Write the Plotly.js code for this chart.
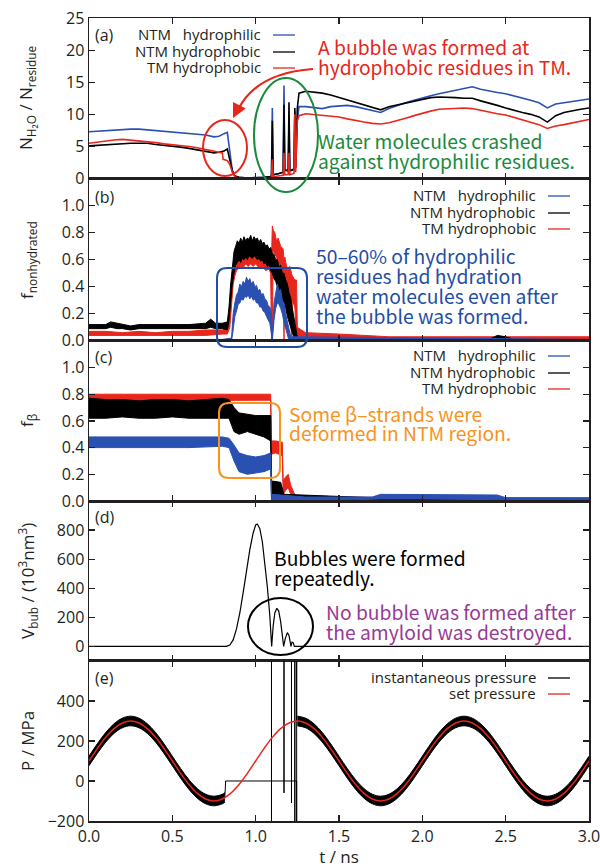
<!DOCTYPE html>
<html><head><meta charset="utf-8">
<script src="https://cdn.plot.ly/plotly-3.0.1.min.js"></script>
<style>html,body{margin:0;padding:0;background:#fff}#chart{width:600px;height:868px}</style>
</head><body><div id="chart"></div>
<script>
// ---------------- DATA ----------------
const xTickVals = [0, 0.5, 1.0, 1.5, 2.0, 2.5, 3.0];
const xTickText = ["0.0", "0.5", "1.0", "1.5", "2.0", "2.5", "3.0"];
const seriesNames = ["NTM\u00a0\u00a0 hydrophilic", "NTM hydrophobic", "TM hydrophobic"];
const pressureNames = ["instantaneous pressure", "set pressure"];

// (a) N_H2O / N_residue  [t, value]
const aPhilicNTM = [[0,7.3],[0.05,7.4],[0.1,7.4],[0.15,7.6],[0.2,7.6],[0.25,7.7],[0.3,7.7],[0.35,7.6],[0.4,7.5],[0.45,7.4],[0.5,7.2],[0.55,7.1],[0.6,7.0],[0.65,6.9],[0.7,6.8],[0.75,6.5],[0.78,6.6],[0.81,7.0],[0.83,7.2],[0.845,4.2],[0.86,1.2],[0.875,0.4],[0.9,0.2],[0.95,0.1],[1.0,0.1],[1.05,0.2],[1.09,0.3],[1.095,0.5],[1.1,11.0],[1.105,0.6],[1.14,0.8],[1.165,1.0],[1.17,14.5],[1.175,1.5],[1.195,1.2],[1.2,9.0],[1.205,1.3],[1.23,1.5],[1.235,10.5],[1.24,1.8],[1.25,9.0],[1.26,11.2],[1.3,11.2],[1.35,11.0],[1.4,10.9],[1.45,11.2],[1.5,11.3],[1.55,11.4],[1.6,11.2],[1.65,10.9],[1.7,10.6],[1.75,10.3],[1.8,10.9],[1.85,11.4],[1.9,11.8],[1.95,12.2],[2.0,12.6],[2.05,12.9],[2.1,13.2],[2.15,13.5],[2.2,13.8],[2.25,14.0],[2.3,14.3],[2.35,13.9],[2.4,13.6],[2.45,13.4],[2.5,13.2],[2.55,12.9],[2.6,12.6],[2.65,12.2],[2.7,11.8],[2.75,11.0],[2.8,11.6],[2.85,11.8],[2.9,12.0],[2.95,12.2],[3.0,12.4]];
const aPhobicNTM = [[0,5.1],[0.05,5.2],[0.1,5.3],[0.15,5.4],[0.2,5.5],[0.25,5.5],[0.3,5.5],[0.35,5.5],[0.4,5.3],[0.45,5.2],[0.5,5.0],[0.55,4.9],[0.6,4.7],[0.65,4.5],[0.7,4.3],[0.75,4.0],[0.78,4.1],[0.81,4.3],[0.83,4.6],[0.845,3.0],[0.86,1.2],[0.875,0.4],[0.9,0.2],[0.95,0.1],[1.0,0.1],[1.05,0.2],[1.09,0.3],[1.095,0.5],[1.1,9.0],[1.105,0.6],[1.14,0.8],[1.165,1.0],[1.17,11.5],[1.175,1.3],[1.195,1.2],[1.2,11.9],[1.205,1.2],[1.23,1.4],[1.235,11.0],[1.24,1.6],[1.25,11.0],[1.26,13.3],[1.3,13.6],[1.35,13.5],[1.4,13.3],[1.45,13.0],[1.5,12.6],[1.55,12.2],[1.6,11.8],[1.65,11.4],[1.7,11.0],[1.75,10.7],[1.8,11.2],[1.85,11.5],[1.9,11.8],[1.95,12.1],[2.0,12.4],[2.05,12.6],[2.1,12.7],[2.15,12.7],[2.2,12.6],[2.25,12.5],[2.3,12.5],[2.35,12.1],[2.4,11.8],[2.45,11.4],[2.5,11.0],[2.55,10.6],[2.6,10.3],[2.65,10.0],[2.7,9.6],[2.75,8.8],[2.8,9.8],[2.85,10.3],[2.9,10.6],[2.95,10.8],[3.0,11.0]];
const aPhobicTM = [[0,5.5],[0.05,5.7],[0.1,5.9],[0.15,6.0],[0.2,6.1],[0.25,6.0],[0.3,5.9],[0.35,5.8],[0.4,5.6],[0.45,5.4],[0.5,5.3],[0.55,5.1],[0.6,5.0],[0.65,4.8],[0.7,4.5],[0.75,4.2],[0.8,4.0],[0.805,3.0],[0.83,2.8],[0.845,2.2],[0.86,1.0],[0.875,0.3],[0.9,0.1],[0.95,0.05],[1.0,0.05],[1.05,0.1],[1.09,0.15],[1.095,0.3],[1.1,3.0],[1.105,0.3],[1.14,0.4],[1.165,0.5],[1.17,4.0],[1.175,0.6],[1.195,0.6],[1.2,4.0],[1.205,0.6],[1.23,0.8],[1.235,10.0],[1.24,1.0],[1.25,9.0],[1.26,9.8],[1.3,10.1],[1.35,10.0],[1.4,9.9],[1.45,9.8],[1.5,9.6],[1.55,9.3],[1.6,9.0],[1.65,8.8],[1.7,8.6],[1.75,8.5],[1.8,8.7],[1.85,9.0],[1.9,9.4],[1.95,9.8],[2.0,10.2],[2.05,10.5],[2.1,10.8],[2.15,10.9],[2.2,11.0],[2.25,11.0],[2.3,10.9],[2.35,10.6],[2.4,10.4],[2.45,10.1],[2.5,9.9],[2.55,9.5],[2.6,9.2],[2.65,8.8],[2.7,8.4],[2.75,7.8],[2.8,8.2],[2.85,8.4],[2.9,8.7],[2.95,9.0],[3.0,9.2]];

// (b) f_nonhydrated  [t, low, high] of the noisy band
const bPhilicNTM = [[0,0.0,0.01],[0.8,0.0,0.01],[0.855,0.0,0.02],[0.865,0.08,0.2],[0.875,0.18,0.28],[0.885,0.22,0.34],[0.895,0.27,0.36],[0.905,0.28,0.42],[0.915,0.31,0.40],[0.925,0.30,0.44],[0.935,0.33,0.42],[0.945,0.32,0.47],[0.955,0.34,0.44],[0.965,0.31,0.46],[0.975,0.33,0.42],[0.985,0.30,0.44],[0.995,0.31,0.40],[1.005,0.28,0.41],[1.015,0.28,0.37],[1.025,0.25,0.38],[1.035,0.25,0.34],[1.045,0.22,0.35],[1.055,0.21,0.31],[1.065,0.18,0.30],[1.075,0.16,0.26],[1.085,0.13,0.25],[1.095,0.05,0.2],[1.1,0.0,0.04],[1.11,0.15,0.28],[1.12,0.24,0.36],[1.13,0.28,0.42],[1.14,0.27,0.37],[1.15,0.24,0.38],[1.16,0.20,0.30],[1.17,0.14,0.28],[1.18,0.09,0.2],[1.19,0.04,0.15],[1.2,0.0,0.08],[1.21,0.0,0.03],[3.0,0.0,0.01]];
const bPhobicNTM = [[0,0.09,0.12],[0.1,0.09,0.12],[0.13,0.10,0.14],[0.17,0.09,0.13],[0.2,0.09,0.12],[0.25,0.08,0.11],[0.3,0.09,0.12],[0.4,0.09,0.12],[0.5,0.09,0.12],[0.6,0.09,0.12],[0.7,0.09,0.13],[0.73,0.10,0.16],[0.76,0.09,0.13],[0.8,0.09,0.13],[0.83,0.08,0.14],[0.84,0.15,0.25],[0.85,0.3,0.42],[0.86,0.42,0.55],[0.87,0.5,0.66],[0.88,0.56,0.70],[0.89,0.58,0.74],[0.9,0.60,0.72],[0.91,0.58,0.76],[0.92,0.61,0.73],[0.93,0.60,0.77],[0.94,0.62,0.74],[0.95,0.60,0.76],[0.96,0.63,0.75],[0.97,0.62,0.78],[0.98,0.61,0.74],[0.99,0.63,0.77],[1.0,0.62,0.75],[1.01,0.60,0.76],[1.02,0.61,0.73],[1.03,0.59,0.75],[1.04,0.60,0.72],[1.05,0.57,0.73],[1.06,0.58,0.70],[1.07,0.55,0.71],[1.08,0.56,0.68],[1.09,0.52,0.69],[1.1,0.50,0.64],[1.11,0.46,0.64],[1.12,0.44,0.60],[1.13,0.40,0.60],[1.14,0.37,0.55],[1.15,0.33,0.56],[1.16,0.30,0.50],[1.17,0.26,0.50],[1.18,0.24,0.45],[1.19,0.18,0.42],[1.2,0.14,0.36],[1.21,0.10,0.32],[1.22,0.06,0.24],[1.23,0.02,0.18],[1.24,0.0,0.10],[1.25,0.0,0.03],[1.26,0.0,0.01],[2.4,0.0,0.01],[2.45,0.0,0.04],[2.5,0.0,0.03],[2.55,0.0,0.01],[3.0,0.0,0.01]];
const bPhobicTM = [[0,0.04,0.07],[0.1,0.04,0.07],[0.2,0.04,0.06],[0.3,0.04,0.07],[0.4,0.04,0.06],[0.5,0.04,0.07],[0.6,0.04,0.07],[0.7,0.04,0.08],[0.8,0.05,0.08],[0.83,0.05,0.09],[0.845,0.10,0.2],[0.855,0.3,0.45],[0.865,0.42,0.55],[0.875,0.48,0.62],[0.885,0.52,0.60],[0.895,0.53,0.66],[0.91,0.55,0.63],[0.925,0.54,0.68],[0.94,0.57,0.64],[0.955,0.55,0.68],[0.97,0.57,0.65],[0.985,0.55,0.68],[1.0,0.57,0.64],[1.02,0.54,0.67],[1.04,0.55,0.63],[1.06,0.52,0.65],[1.08,0.53,0.61],[1.09,0.50,0.62],[1.095,0.0,0.6],[1.1,0.0,0.85],[1.105,0.68,0.82],[1.115,0.64,0.80],[1.125,0.62,0.74],[1.135,0.58,0.76],[1.15,0.55,0.70],[1.165,0.5,0.68],[1.17,0.0,0.6],[1.175,0.42,0.62],[1.19,0.40,0.52],[1.205,0.36,0.55],[1.215,0.0,0.5],[1.22,0.3,0.48],[1.235,0.25,0.45],[1.245,0.0,0.45],[1.25,0.03,0.1],[1.3,0.03,0.06],[1.5,0.02,0.05],[1.8,0.01,0.03],[2.0,0.01,0.03],[2.5,0.01,0.03],[2.6,0.0,0.03],[3.0,0.01,0.03]];

// (c) f_beta  [t, low, high]
const cPhilicNTM = [[0,0.40,0.48],[0.2,0.40,0.48],[0.4,0.40,0.48],[0.6,0.40,0.48],[0.8,0.41,0.48],[0.84,0.40,0.47],[0.87,0.30,0.42],[0.9,0.22,0.36],[0.95,0.20,0.34],[1.0,0.21,0.33],[1.05,0.22,0.34],[1.09,0.24,0.36],[1.095,0.0,0.05],[1.3,0.0,0.03],[1.7,0.01,0.03],[1.75,0.015,0.05],[2.0,0.015,0.05],[2.2,0.015,0.045],[2.45,0.01,0.045],[2.5,0.005,0.025],[3.0,0.005,0.025]];
const cPhobicNTM = [[0,0.62,0.77],[0.1,0.62,0.76],[0.2,0.63,0.76],[0.3,0.62,0.75],[0.4,0.62,0.76],[0.5,0.63,0.76],[0.6,0.62,0.75],[0.7,0.62,0.76],[0.8,0.62,0.77],[0.84,0.62,0.76],[0.87,0.52,0.70],[0.9,0.50,0.66],[0.95,0.52,0.65],[1.0,0.50,0.64],[1.05,0.48,0.64],[1.09,0.45,0.64],[1.095,0.02,0.15],[1.15,0.03,0.14],[1.17,0.0,0.05],[1.8,0.0,0.02],[3.0,0.0,0.01]];
const cPhobicTM = [[0,0.75,0.80],[0.5,0.75,0.80],[1.09,0.755,0.80],[1.095,0.35,0.45],[1.12,0.36,0.45],[1.16,0.34,0.44],[1.165,0.05,0.15],[1.18,0.08,0.18],[1.195,0.1,0.2],[1.21,0.05,0.12],[1.23,0.01,0.06],[1.25,0.0,0.03],[3.0,0.0,0.02]];

// (d) V_bub (10^3 nm^3)  [t, value]
const dVbub = [[0,0],[0.825,0],[0.845,10],[0.865,45],[0.885,120],[0.905,230],[0.925,370],[0.945,520],[0.965,665],[0.985,780],[1.0,835],[1.01,842],[1.025,810],[1.04,720],[1.055,580],[1.07,410],[1.085,210],[1.096,0],[1.105,140],[1.115,230],[1.127,262],[1.138,245],[1.15,170],[1.16,70],[1.168,0],[1.178,55],[1.19,95],[1.2,75],[1.208,20],[1.212,0],[1.218,30],[1.226,25],[1.232,0],[3.0,0]];

// (e) pressure (MPa)
const eSetP = [[0,100],[0.05,162],[0.1,218],[0.15,262],[0.2,290],[0.25,300],[0.3,290],[0.35,262],[0.4,218],[0.45,162],[0.5,100],[0.55,38],[0.6,-18],[0.65,-62],[0.7,-90],[0.75,-100],[0.8,-90],[0.85,-62],[0.9,-18],[0.95,38],
[1.0,100],[1.05,162],[1.1,218],[1.15,262],[1.2,290],[1.25,300],[1.3,290],[1.35,262],[1.4,218],[1.45,162],[1.5,100],[1.55,38],[1.6,-18],[1.65,-62],[1.7,-90],[1.75,-100],[1.8,-90],[1.85,-62],[1.9,-18],[1.95,38],
[2.0,100],[2.05,162],[2.1,218],[2.15,262],[2.2,290],[2.25,300],[2.3,290],[2.35,262],[2.4,218],[2.45,162],[2.5,100],[2.55,38],[2.6,-18],[2.65,-62],[2.7,-90],[2.75,-100],[2.8,-90],[2.85,-62],[2.9,-18],[2.95,38],[3.0,100]];
const eInstBand1 = [[0,76,124],[0.05,138,186],[0.1,194,242],[0.15,238,286],[0.2,266,314],[0.25,276,324],[0.3,266,314],[0.35,238,286],[0.4,194,242],[0.45,138,186],[0.5,76,124],[0.55,14,62],[0.6,-42,6],[0.65,-86,-38],[0.7,-114,-66],[0.75,-124,-76],[0.8,-114,-66],[0.815,-106,-58]];
const eInstBand2 = [[1.25,276,324],[1.3,266,314],[1.35,238,286],[1.4,194,242],[1.45,138,186],[1.5,76,124],[1.55,14,62],[1.6,-42,6],[1.65,-86,-38],[1.7,-114,-66],[1.75,-124,-76],[1.8,-114,-66],[1.85,-86,-38],[1.9,-42,6],[1.95,14,62],[2.0,76,124],[2.05,138,186],[2.1,194,242],[2.15,238,286],[2.2,266,314],[2.25,276,324],[2.3,266,314],[2.35,238,286],[2.4,194,242],[2.45,138,186],[2.5,76,124],[2.55,14,62],[2.6,-42,6],[2.65,-86,-38],[2.7,-114,-66],[2.75,-124,-76],[2.8,-114,-66],[2.85,-86,-38],[2.9,-42,6],[2.95,14,62],[3.0,76,124]];
const eInstGap = [[0.8,-90],[0.815,-80],[0.82,0],[1.095,0],[1.095,-200],[1.095,2000],[1.095,0],[1.17,0],[1.17,-60],[1.17,2000],[1.17,0],[1.215,0],[1.215,-110],[1.215,2000],[1.215,0],[1.235,0],[1.235,-200],[1.235,2000],[1.235,0],[1.246,0],[1.246,-200],[1.246,2000],[1.246,300]];

// ---------------- STYLE ----------------
const BLUE = '#2a50b2', RED = '#e8261c', BLACK = '#000000', INK = '#231f20';
const GREEN = '#1b8a3c', ORANGE = '#f7931e', PURPLE = '#983a96', NOTEBLUE = '#1f4ea6';
const TICKFONT = {family: 'Open Sans, Lato, sans-serif', size: 16, color: INK};
const NOTEFONT = 'Noto Sans CJK JP, Noto Sans, sans-serif';
const L = 89, T = 18, W = 500, H = 803;
const px = x => (x - L) / W;
const py = y => (T + H - y) / H;

function lineTrace(pairs, color, w, ax, shape) {
  return {x: pairs.map(p => p[0]), y: pairs.map(p => p[1]), mode: 'lines',
    line: {color: color, width: w, shape: shape || 'linear'},
    xaxis: 'x' + ax, yaxis: 'y' + ax, showlegend: false, hoverinfo: 'skip'};
}
function bandTraces(triples, color, ax, shape) {
  const xs = triples.map(p => p[0]);
  return [
    {x: xs, y: triples.map(p => p[1]), mode: 'lines', line: {color: color, width: 1, shape: shape || 'linear'},
     xaxis: 'x' + ax, yaxis: 'y' + ax, showlegend: false, hoverinfo: 'skip'},
    {x: xs, y: triples.map(p => p[2]), mode: 'lines', line: {color: color, width: 1, shape: shape || 'linear'},
     fill: 'tonexty', fillcolor: color, xaxis: 'x' + ax, yaxis: 'y' + ax, showlegend: false, hoverinfo: 'skip'}
  ];
}

const traces = [
  lineTrace(aPhilicNTM, BLUE, 1.6, ''),
  lineTrace(aPhobicNTM, BLACK, 1.6, ''),
  lineTrace(aPhobicTM, RED, 1.6, ''),
  ...bandTraces(bPhobicTM, RED, '2'),
  ...bandTraces(bPhobicNTM, BLACK, '2'),
  ...bandTraces(bPhilicNTM, BLUE, '2'),
  ...bandTraces(cPhobicTM, RED, '3'),
  ...bandTraces(cPhobicNTM, BLACK, '3'),
  ...bandTraces(cPhilicNTM, BLUE, '3'),
  lineTrace(dVbub, BLACK, 1.2, '4'),
  ...bandTraces(eInstBand1, BLACK, '5', 'spline'),
  ...bandTraces(eInstBand2, BLACK, '5', 'spline'),
  lineTrace(eInstGap, BLACK, 1, '5'),
  lineTrace(eSetP, RED, 1.5, '5', 'spline')
];

const axBase = {showline: true, linecolor: INK, linewidth: 1.5, mirror: 'ticks', ticks: 'inside',
  ticklen: 6, tickwidth: 1.2, tickcolor: INK, zeroline: false, showgrid: false, tickfont: TICKFONT,
  ticklabeloverflow: 'allow'};
const doms = [[0.8, 1], [0.598, 0.8], [0.3985, 0.598], [0.1993, 0.3985], [0, 0.1993]];
const layout = {
  width: 600, height: 868, margin: {l: L, r: 11, t: T, b: 47},
  paper_bgcolor: '#fff', plot_bgcolor: '#fff', showlegend: false,
  annotations: [], shapes: []
};
const yRanges = [[0, 25], [0, 1.2], [0, 1.2], [-100, 1000], [-200, 600]];
const yTicks = [[0, 5, 10, 15, 20, 25], [0, 0.2, 0.4, 0.6, 0.8, 1.0], [0, 0.2, 0.4, 0.6, 0.8, 1.0], [0, 200, 400, 600, 800], [-200, 0, 200, 400]];
const yTickText = [["0", "5", "10", "15", "20", "25"], ["0.0", "0.2", "0.4", "0.6", "0.8", "1.0"], ["0.0", "0.2", "0.4", "0.6", "0.8", "1.0"], ["0", "200", "400", "600", "800"], ["\u2212200", "0", "200", "400"]];
for (let i = 0; i < 5; i++) {
  const s = i === 0 ? '' : String(i + 1);
  layout['xaxis' + s] = Object.assign({}, axBase, {range: [0, 3.0001], tickvals: xTickVals, ticktext: xTickText,
    showticklabels: i === 4, anchor: 'y' + s, domain: [0, 1]});
  layout['yaxis' + s] = Object.assign({}, axBase, {range: yRanges[i], tickvals: yTicks[i], ticktext: yTickText[i],
    anchor: 'x' + s, domain: doms[i]});
}
layout.xaxis5.title = {text: 't / ns', font: {family: 'Open Sans, sans-serif', size: 17, color: INK}, standoff: 7};

const A = layout.annotations, S = layout.shapes;
function note(text, x, y, color, size, family, anchor) {
  A.push({text: text, x: px(x), y: py(y), xref: 'paper', yref: 'paper', xanchor: anchor || 'left', yanchor: 'middle',
    showarrow: false, borderpad: 0, font: {family: family || NOTEFONT, size: size || 19.3, color: color}});
}
// panel labels
[['(a)', 35], ['(b)', 197], ['(c)', 357], ['(d)', 517], ['(e)', 678]].forEach(p => note(p[0], 94, p[1], INK, 16, 'Open Sans, sans-serif'));
// y titles
const yTitles = [['N<sub>H\u2082O</sub> / N<sub>residue</sub>', 98], ['f<sub>nonhydrated</sub>', 260], ['f<sub>\u03b2</sub>', 421], ['V<sub>bub</sub> / (10<sup>3</sup>nm<sup>3</sup>)', 581], ['P / MPa', 741]];
yTitles.forEach(t => A.push({text: t[0], x: px(27), y: py(t[1]), xref: 'paper', yref: 'paper', xanchor: 'center', yanchor: 'middle',
  textangle: -90, showarrow: false, font: {family: 'Open Sans, sans-serif', size: 17, color: INK}}));
// legends (text right-aligned, sample line to the right)
function legendRow(text, color, xr, y) {
  note(text, xr, y, INK, 15, 'Open Sans, sans-serif', 'right');
  S.push({type: 'line', xref: 'paper', yref: 'paper', x0: px(xr + 11), x1: px(xr + 33), y0: py(y + 1), y1: py(y + 1), line: {color: color, width: 1.3}});
}
const legColors = [BLUE, BLACK, RED];
[[262, [34, 51, 67]], [537, [195, 212, 228]], [537, [355, 372, 388]]].forEach(g => {
  seriesNames.forEach((n, k) => legendRow(n, legColors[k], g[0], g[1][k]));
});
legendRow(pressureNames[0], BLACK, 537, 677);
legendRow(pressureNames[1], RED, 537, 693);

// call-out texts (one annotation per line, as in the reference)
note('A bubble was formed at', 317, 47, RED);
note('hydrophobic residues in TM.', 317, 67, RED);
note('Water molecules crashed', 317, 141, GREEN);
note('against hydrophilic residues.', 317, 161, GREEN);
note('50\u201360% of hydrophilic', 315, 256, NOTEBLUE);
note('residues had hydration', 315, 276, NOTEBLUE);
note('water molecules even after', 315, 296, NOTEBLUE);
note('the bubble was formed.', 315, 316, NOTEBLUE);
note('Some \u03b2\u2013strands were', 288, 414, ORANGE);
note('deformed in NTM region.', 288, 433, ORANGE);
note('Bubbles were formed', 273, 558, BLACK);
note('repeatedly.', 273, 578, BLACK);
note('No bubble was formed after', 325, 612, PURPLE);
note('the amyloid was destroyed.', 325, 632, PURPLE);

// ellipses
function ellipse(x0, y0, x1, y1, color) {
  S.push({type: 'circle', xref: 'paper', yref: 'paper', x0: px(x0), x1: px(x1), y0: py(y1), y1: py(y0), line: {color: color, width: 2}});
}
ellipse(203, 120, 247, 176, RED);
ellipse(254, 78, 318, 192, GREEN);
ellipse(248, 598, 313, 655, BLACK);
// rounded rectangles
function rrect(x0, y0, x1, y1, r, color) {
  const P = (x, y) => px(x) + ',' + py(y);
  const d = 'M' + P(x0 + r, y0) + ' L' + P(x1 - r, y0) + ' Q' + P(x1, y0) + ' ' + P(x1, y0 + r) +
    ' L' + P(x1, y1 - r) + ' Q' + P(x1, y1) + ' ' + P(x1 - r, y1) + ' L' + P(x0 + r, y1) +
    ' Q' + P(x0, y1) + ' ' + P(x0, y1 - r) + ' L' + P(x0, y0 + r) + ' Q' + P(x0, y0) + ' ' + P(x0 + r, y0) + ' Z';
  S.push({type: 'path', xref: 'paper', yref: 'paper', path: d, line: {color: color, width: 2}});
}
rrect(217, 268, 307, 347, 10, NOTEBLUE);
rrect(219, 403, 280, 478, 10, ORANGE);
// curved red arrow
S.push({type: 'path', xref: 'paper', yref: 'paper',
  path: 'M' + px(313) + ',' + py(69) + ' Q' + px(256) + ',' + py(73) + ' ' + px(238) + ',' + py(110),
  line: {color: RED, width: 2.2}});
A.push({text: '', x: px(233), y: py(118), xref: 'paper', yref: 'paper', showarrow: true, ax: 6, ay: -12,
  arrowhead: 2, arrowsize: 1.3, arrowwidth: 2.2, arrowcolor: RED});

Plotly.newPlot('chart', traces, layout, {staticPlot: true, displayModeBar: false});
</script></body></html>
